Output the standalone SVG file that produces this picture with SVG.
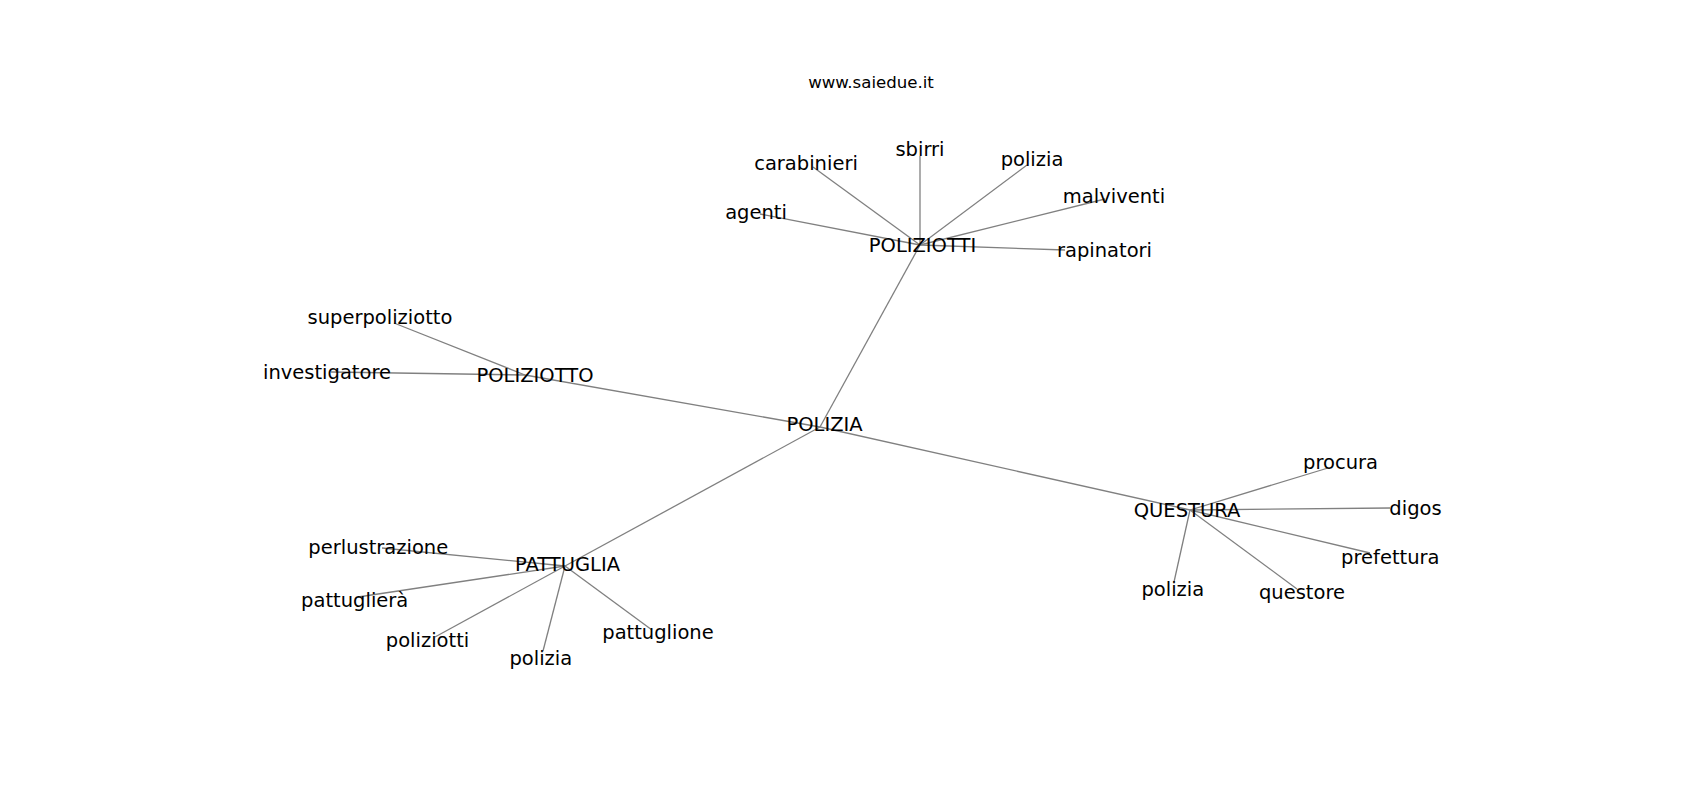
<svg xmlns="http://www.w3.org/2000/svg" width="1700" height="800" viewBox="0 0 1700 800">
<style>
.e{stroke:#808080;stroke-width:1.3;fill:none}
.t{font-family:"DejaVu Sans","Liberation Sans",sans-serif;font-size:19.5px;fill:#000;text-anchor:middle}
.title{font-family:"DejaVu Sans","Liberation Sans",sans-serif;font-size:16.6px;fill:#000;text-anchor:middle}
</style>
<rect width="1700" height="800" fill="#fff"/>
<g id="connectors">
<line class="e" x1="820" y1="427" x2="920" y2="245"/>
<line class="e" x1="820" y1="427" x2="525" y2="375"/>
<line class="e" x1="820" y1="427" x2="1190" y2="510"/>
<line class="e" x1="820" y1="427" x2="565" y2="566"/>
<line class="e" x1="920" y1="245" x2="813" y2="167"/>
<line class="e" x1="920" y1="245" x2="920" y2="156"/>
<line class="e" x1="920" y1="245" x2="1027" y2="165"/>
<line class="e" x1="920" y1="245" x2="760" y2="214"/>
<line class="e" x1="920" y1="245" x2="1105" y2="199"/>
<line class="e" x1="920" y1="245" x2="1065" y2="250"/>
<line class="e" x1="525" y1="375" x2="394" y2="323"/>
<line class="e" x1="525" y1="375" x2="331" y2="372"/>
<line class="e" x1="1190" y1="510" x2="1328" y2="468"/>
<line class="e" x1="1190" y1="510" x2="1390" y2="508"/>
<line class="e" x1="1190" y1="510" x2="1370" y2="553"/>
<line class="e" x1="1190" y1="510" x2="1297" y2="589"/>
<line class="e" x1="1190" y1="510" x2="1174" y2="582"/>
<line class="e" x1="565" y1="566" x2="382" y2="548"/>
<line class="e" x1="565" y1="566" x2="358" y2="597"/>
<line class="e" x1="565" y1="566" x2="435" y2="637"/>
<line class="e" x1="565" y1="566" x2="543" y2="651"/>
<line class="e" x1="565" y1="566" x2="652" y2="630"/>
</g>
<g id="title"><text class="title" x="871" y="88">www.saiedue.it</text></g>
<g id="n-polizia-center"><text class="t" x="824.5" y="431">POLIZIA</text></g>
<g id="n-poliziotti"><text class="t" x="922.5" y="252">POLIZIOTTI</text></g>
<g id="n-poliziotto"><text class="t" x="535" y="382">POLIZIOTTO</text></g>
<g id="n-questura"><text class="t" x="1187" y="517">QUESTURA</text></g>
<g id="n-pattuglia"><text class="t" x="567.5" y="570.5">PATTUGLIA</text></g>
<g id="n-carabinieri"><text class="t" x="806" y="169.5">carabinieri</text></g>
<g id="n-sbirri"><text class="t" x="920" y="156">sbirri</text></g>
<g id="n-polizia-top"><text class="t" x="1032" y="166">polizia</text></g>
<g id="n-agenti"><text class="t" x="756" y="219">agenti</text></g>
<g id="n-malviventi"><text class="t" x="1114" y="203">malviventi</text></g>
<g id="n-rapinatori"><text class="t" x="1104.5" y="257">rapinatori</text></g>
<g id="n-superpoliziotto"><text class="t" x="380" y="323.5">superpoliziotto</text></g>
<g id="n-investigatore"><text class="t" x="327" y="378.5">investigatore</text></g>
<g id="n-procura"><text class="t" x="1340.5" y="468.5">procura</text></g>
<g id="n-digos"><text class="t" x="1415.5" y="514.5">digos</text></g>
<g id="n-prefettura"><text class="t" x="1390.3" y="564">prefettura</text></g>
<g id="n-polizia-right"><text class="t" x="1172.8" y="596">polizia</text></g>
<g id="n-questore"><text class="t" x="1302" y="598.5">questore</text></g>
<g id="n-perlustrazione"><text class="t" x="378.3" y="554">perlustrazione</text></g>
<g id="n-pattugliera"><text class="t" x="354.7" y="606.5">pattuglierà</text></g>
<g id="n-poliziotti-leaf"><text class="t" x="427.5" y="646.5">poliziotti</text></g>
<g id="n-polizia-bottom"><text class="t" x="540.8" y="664.5">polizia</text></g>
<g id="n-pattuglione"><text class="t" x="658" y="639">pattuglione</text></g>
</svg>
